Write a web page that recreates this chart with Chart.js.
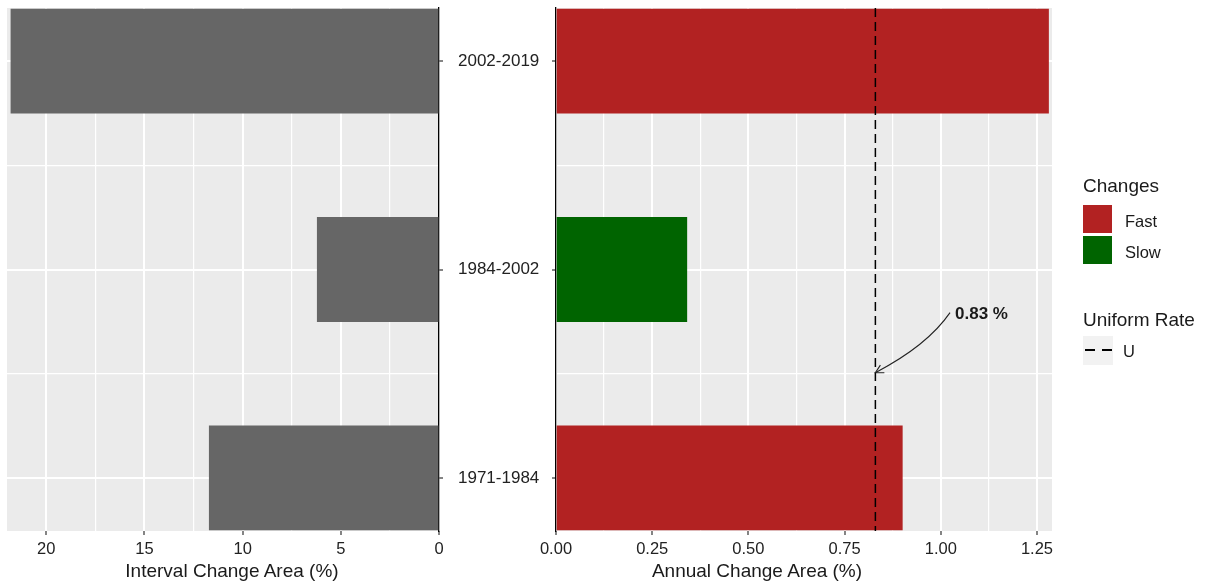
<!DOCTYPE html>
<html>
<head>
<meta charset="utf-8">
<script src="https://cdn.jsdelivr.net/npm/chart.js@4.4.0/dist/chart.umd.min.js"></script>
<style>
  body { margin: 0; background: #fff; }
  #wrap { position: relative; width: 1210px; height: 586px; font-family: "Liberation Sans", Arial, sans-serif; color: #1a1a1a; }
  canvas { position: absolute; left: 0; top: 0; }
  .txt { position: absolute; white-space: nowrap; line-height: 1; }
  .axis-title { font-size: 19px; transform: translateX(-50%); }
  .legend-title { font-size: 19px; }
  .legend-label { font-size: 16.5px; }
  .key { position: absolute; width: 29px; height: 28px; }
</style>
</head>
<body>
<div id="wrap">
  <canvas id="left-chart" width="1210" height="586"></canvas>
  <canvas id="right-chart" width="1210" height="586"></canvas>
  <div class="txt axis-title" style="left:232px; top:561px">Interval Change Area (%)</div>
  <div class="txt axis-title" style="left:757px; top:561px">Annual Change Area (%)</div>
  <div id="legend"></div>
</div>

<script>
// data
const periods = ['1971-1984', '1984-2002', '2002-2019'];
const intervalChange = [11.7, 6.2, 21.8];     // % over the whole interval
const annualChange = [0.90, 0.34, 1.28];      // % per year
const changeClass = ['Fast', 'Slow', 'Fast'];
const uniformRate = 0.83;

const intervalTicks = [0, 2.5, 5, 7.5, 10, 12.5, 15, 17.5, 20];
const annualTicks = [0, 0.125, 0.25, 0.375, 0.5, 0.625, 0.75, 0.875, 1, 1.125, 1.25];
const periodTicks = [0, 0.5, 1, 1.5, 2];

const classColors = { Fast: '#B22222', Slow: '#006400' };

Chart.defaults.font.family = "'Liberation Sans', Arial, sans-serif";
Chart.defaults.color = '#222';

// grey panel behind the grid
const panelBg = {
  id: 'panelBg',
  beforeDraw(chart) {
    const a = chart.chartArea;
    const ctx = chart.ctx;
    ctx.save();
    ctx.fillStyle = '#EBEBEB';
    ctx.fillRect(a.left, a.top, a.right - a.left, a.bottom - a.top);
    ctx.restore();
  }
};

function isMajor(v, step) {
  return Math.abs(v / step - Math.round(v / step)) < 1e-6;
}

function periodScale(position, width, showLabels) {
  return {
    type: 'linear',
    position: position,
    min: -0.255,
    max: 2.255,
    offset: false,
    afterBuildTicks: s => { s.ticks = periodTicks.map(v => ({ value: v })); },
    afterFit: s => {
      s.width = width;
      s.paddingTop = 0;
      s.paddingBottom = 0;
    },
    grid: {
      offset: false,
      color: '#fff',
      lineWidth: c => (c.tick && isMajor(c.tick.value, 1)) ? 2 : 1.2,
      tickColor: c => (c.tick && isMajor(c.tick.value, 1)) ? '#333' : 'rgba(0,0,0,0)',
      tickLength: 4,
      tickWidth: 1.2
    },
    border: { display: true, color: '#000', width: 1.3 },
    ticks: {
      display: showLabels,
      autoSkip: false,
      padding: 15,
      crossAlign: 'near',
      color: '#222',
      font: { size: 17 },
      callback: v => isMajor(v, 1) ? periods[Math.round(v)] : ''
    }
  };
}

function valueScale(tickList, majorStep, max, reverse, fmt) {
  return {
    type: 'linear',
    min: 0,
    max: max,
    reverse: reverse,
    afterBuildTicks: s => { s.ticks = tickList.map(v => ({ value: v })); },
    afterFit: s => { s.height = 55; },
    grid: {
      color: '#fff',
      lineWidth: c => (c.tick && isMajor(c.tick.value, majorStep)) ? 2 : 1.2,
      tickColor: c => (c.tick && isMajor(c.tick.value, majorStep)) ? '#333' : 'rgba(0,0,0,0)',
      tickLength: 4,
      tickWidth: 1.2
    },
    border: { display: false },
    ticks: {
      autoSkip: false,
      maxRotation: 0,
      padding: 5,
      color: '#222',
      font: { size: 16.5 },
      callback: v => isMajor(v, majorStep) ? fmt(v) : ''
    }
  };
}

// Left panel: interval change (reversed axis)
new Chart(document.getElementById('left-chart'), {
  type: 'bar',
  data: {
    datasets: [{
      label: 'Interval Change Area (%)',
      data: periods.map((p, i) => ({ x: intervalChange[i], y: i })),
      backgroundColor: '#666666',
      borderWidth: 0,
      categoryPercentage: 1,
      barPercentage: 1
    }]
  },
  options: {
    responsive: false,
    animation: false,
    indexAxis: 'y',
    layout: { padding: { left: 7, top: 8, right: 654, bottom: 0 } },
    plugins: { legend: { display: false }, tooltip: { enabled: false } },
    scales: {
      x: valueScale(intervalTicks, 5, 22.0, true, v => String(v)),
      y: periodScale('right', 117, true)
    }
  },
  plugins: [panelBg]
});

// dashed uniform rate line, arrow and its label
const uniformMark = {
  id: 'uniformMark',
  afterDatasetsDraw(chart) {
    const ctx = chart.ctx;
    const a = chart.chartArea;
    const xs = chart.scales.x;
    const ys = chart.scales.y;
    const ux = xs.getPixelForValue(uniformRate);

    ctx.save();
    ctx.strokeStyle = '#000';
    ctx.lineWidth = 1.5;
    ctx.setLineDash([9, 5]);
    ctx.beginPath();
    ctx.moveTo(ux, a.top);
    ctx.lineTo(ux, a.bottom);
    ctx.stroke();

    // curved arrow from the label down to the line
    const x0 = xs.getPixelForValue(1.024), y0 = ys.getPixelForValue(0.793);
    const cx = xs.getPixelForValue(0.965), cy = ys.getPixelForValue(0.635);
    const x1 = ux, y1 = ys.getPixelForValue(0.505);
    ctx.setLineDash([]);
    ctx.lineWidth = 1.1;
    ctx.strokeStyle = '#222';
    ctx.beginPath();
    ctx.moveTo(x0, y0);
    ctx.quadraticCurveTo(cx, cy, x1, y1);
    ctx.stroke();

    const ang = Math.atan2(y1 - cy, x1 - cx);
    const len = 9;
    ctx.beginPath();
    ctx.moveTo(x1 - len * Math.cos(ang - 0.5), y1 - len * Math.sin(ang - 0.5));
    ctx.lineTo(x1, y1);
    ctx.lineTo(x1 - len * Math.cos(ang + 0.5), y1 - len * Math.sin(ang + 0.5));
    ctx.stroke();

    ctx.fillStyle = '#1a1a1a';
    ctx.font = "bold 17px 'Liberation Sans', Arial, sans-serif";
    ctx.textAlign = 'left';
    ctx.textBaseline = 'middle';
    ctx.fillText(uniformRate.toFixed(2) + ' %', xs.getPixelForValue(1.037), ys.getPixelForValue(0.784));
    ctx.restore();
  }
};

// Right panel: annual change coloured by class
new Chart(document.getElementById('right-chart'), {
  type: 'bar',
  data: {
    datasets: [{
      label: 'Annual Change Area (%)',
      data: periods.map((p, i) => ({ x: annualChange[i], y: i })),
      backgroundColor: changeClass.map(c => classColors[c]),
      borderWidth: 0,
      categoryPercentage: 1,
      barPercentage: 1
    }]
  },
  options: {
    responsive: false,
    animation: false,
    indexAxis: 'y',
    layout: { padding: { left: 530, top: 8, right: 158, bottom: 0 } },
    plugins: { legend: { display: false }, tooltip: { enabled: false } },
    scales: {
      x: valueScale(annualTicks, 0.25, 1.289, false, v => v.toFixed(2)),
      y: periodScale('left', 26, false)
    }
  },
  plugins: [panelBg, uniformMark]
});

// legend (two groups, like the original)
const legend = document.getElementById('legend');
function addText(cls, text, left, top) {
  const d = document.createElement('div');
  d.className = 'txt ' + cls;
  d.style.left = left + 'px';
  d.style.top = top + 'px';
  d.textContent = text;
  legend.appendChild(d);
  return d;
}
addText('legend-title', 'Changes', 1083, 176);
Object.keys(classColors).forEach((name, i) => {
  const k = document.createElement('div');
  k.className = 'key';
  k.style.left = '1083px';
  k.style.top = (205 + i * 31) + 'px';
  k.style.background = classColors[name];
  legend.appendChild(k);
  addText('legend-label', name, 1125, 213 + i * 31);
});
addText('legend-title', 'Uniform Rate', 1083, 310);
const uKey = document.createElement('div');
uKey.className = 'key';
uKey.style.left = '1083px';
uKey.style.top = '336px';
uKey.style.width = '30px';
uKey.style.height = '29px';
uKey.style.background = '#F2F2F2';
const dash = document.createElement('div');
dash.style.cssText = 'position:absolute; left:2px; top:13px; width:27px; height:2px; background:repeating-linear-gradient(to right, #000 0 10px, transparent 10px 17px);';
uKey.appendChild(dash);
legend.appendChild(uKey);
addText('legend-label', 'U', 1123, 343);
</script>
</body>
</html>
